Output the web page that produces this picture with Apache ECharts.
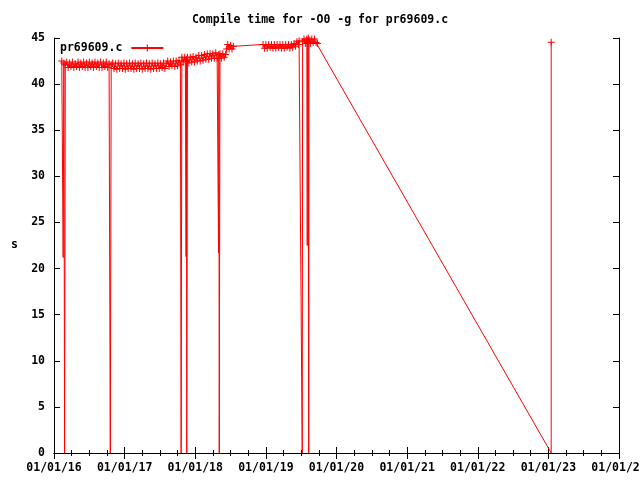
<!DOCTYPE html>
<html>
<head>
<meta charset="utf-8">
<script src="https://cdn.jsdelivr.net/npm/echarts@6/dist/echarts.min.js"></script>
<style>
html,body{margin:0;padding:0;background:#fff;}
#chart{width:640px;height:480px;}
</style>
</head>
<body>
<div id="chart"></div>
<script>
// Series name and title
const seriesName = 'pr69609.c';
const titleText = 'Compile time for -O0 -g for pr69609.c';

// Dates as decimal years
const years = [
  2016.11, 2016.13, 2016.14, 2016.15, 2016.16,
  2016.18, 2016.20, 2016.22, 2016.24, 2016.26, 2016.28, 2016.30, 2016.32, 2016.34, 2016.36,
  2016.38, 2016.40, 2016.42, 2016.44, 2016.46, 2016.48, 2016.50, 2016.52, 2016.54, 2016.56,
  2016.58, 2016.60, 2016.62, 2016.64, 2016.66, 2016.68, 2016.70, 2016.72, 2016.74, 2016.76,
  2016.78, 2016.797, 2016.81,
  2016.83, 2016.85, 2016.87, 2016.89, 2016.91, 2016.93, 2016.95, 2016.97, 2016.99, 2017.01,
  2017.03, 2017.05, 2017.07, 2017.09, 2017.11, 2017.13, 2017.15, 2017.17, 2017.19, 2017.21,
  2017.23, 2017.25, 2017.27, 2017.29, 2017.31, 2017.33, 2017.35, 2017.37, 2017.39, 2017.41,
  2017.43, 2017.45, 2017.47, 2017.49, 2017.51, 2017.53, 2017.55, 2017.57, 2017.59, 2017.61,
  2017.63, 2017.65, 2017.67, 2017.69, 2017.71, 2017.73, 2017.75, 2017.77, 2017.79, 2017.80,
  2017.81, 2017.83, 2017.85, 2017.86, 2017.87, 2017.875, 2017.88, 2017.89, 2017.91, 2017.93,
  2017.95, 2017.97, 2017.99, 2018.01, 2018.03, 2018.05, 2018.07, 2018.09, 2018.11, 2018.13,
  2018.15, 2018.17, 2018.19, 2018.21, 2018.23, 2018.25, 2018.27, 2018.29, 2018.31, 2018.33,
  2018.335, 2018.34, 2018.35, 2018.37, 2018.39, 2018.41, 2018.43, 2018.445, 2018.46, 2018.48,
  2018.50, 2018.52, 2018.54, 2018.96, 2018.98, 2019.00, 2019.02, 2019.04, 2019.06, 2019.08,
  2019.10, 2019.12, 2019.14, 2019.16, 2019.18, 2019.20, 2019.22, 2019.24, 2019.26, 2019.28,
  2019.30, 2019.32, 2019.34, 2019.36, 2019.38, 2019.40, 2019.42, 2019.44, 2019.46, 2019.47,
  2019.515, 2019.52, 2019.54, 2019.56, 2019.58, 2019.586, 2019.59, 2019.60, 2019.607, 2019.61,
  2019.63, 2019.65, 2019.67, 2019.69, 2019.71, 2019.73, 2023.04, 2023.04
];

// Compile time in seconds
const seconds = [
  42.5, 21.2, 42.3, 0, 42.1,
  42.4, 41.8, 42.3, 41.9, 42.4, 41.8, 42.2, 41.9, 42.4, 41.8,
  42.3, 41.9, 42.4, 41.8, 42.3, 41.8, 42.4, 41.9, 42.3, 41.8,
  42.4, 41.9, 42.3, 41.8, 42.4, 41.8, 42.3, 41.9, 42.4, 41.8,
  42.2, 0, 42.1,
  42.3, 41.7, 42.2, 41.6, 42.3, 41.7, 42.2, 41.7, 42.3, 41.6,
  42.2, 41.7, 42.3, 41.7, 42.2, 41.6, 42.3, 41.7, 42.2, 41.7,
  42.3, 41.6, 42.2, 41.7, 42.3, 41.7, 42.2, 41.6, 42.3, 41.7,
  42.2, 41.7, 42.3, 41.7, 42.2, 41.8, 42.3, 41.7, 42.2, 42.5,
  41.9, 42.4, 42.0, 42.5, 41.9, 42.5, 42.0, 42.6, 42.1, 0,
  42.9, 42.4, 42.9, 42.5, 21.3, 42.7, 0, 42.9, 42.3, 42.9,
  42.4, 43.0, 42.4, 42.9, 42.5, 43.1, 42.5, 43.1, 42.6, 43.2,
  42.7, 43.3, 42.7, 43.3, 42.8, 43.3, 42.8, 43.4, 42.8, 21.7,
  43.2, 0, 43.3, 42.8, 43.3, 42.9, 43.2, 43.8, 44.3, 43.8,
  44.2, 43.8, 44.1, 44.3, 43.9, 44.3, 43.9, 44.3, 44.0, 44.3,
  43.9, 44.3, 43.9, 44.3, 44.0, 44.3, 43.9, 44.3, 43.9, 44.3,
  44.0, 44.3, 43.9, 44.3, 44.0, 44.4, 44.1, 44.6, 44.3, 44.7,
  0, 44.6, 44.9, 44.4, 44.9, 22.5, 44.5, 45.0, 0, 44.8,
  44.4, 44.9, 44.5, 44.9, 44.5, 44.4, 0, 44.55
];

// Axis ticks
const xMin = 2016, xMax = 2024, xStep = 1;
const yMin = 0, yMax = 45, yStep = 5;

const plusPath = 'path://M3,0h1v3h3v1h-3v3h-1v-3h-3v-1h3z';
// drop-out points (far below the band) are drawn without a marker, as in the original
const data = years.map((y, i) => seconds[i] < 40
  ? { value: [y, seconds[i]], symbol: 'none' }
  : [y, seconds[i]]);
const font = 'DejaVu Sans Mono';
const red = '#ff0000';

function yearLabel(v) {
  const yy = String(Math.round(v) % 100).padStart(2, '0');
  return '01/01/' + yy;
}

const xCommon = {
  type: 'value', min: xMin, max: xMax, interval: xStep,
  axisLine: { show: true, lineStyle: { color: '#000', width: 1 } },
  axisTick: { show: true, inside: true, length: 6, lineStyle: { color: '#000' } },
  minorTick: { show: true, splitNumber: 4, length: 3, lineStyle: { color: '#000' } },
  splitLine: { show: false }, minorSplitLine: { show: false }
};
const yCommon = {
  type: 'value', min: yMin, max: yMax, interval: yStep,
  axisLine: { show: true, lineStyle: { color: '#000', width: 1 } },
  axisTick: { show: true, inside: true, length: 6, lineStyle: { color: '#000' } },
  splitLine: { show: false }
};

const chart = echarts.init(document.getElementById('chart'), null, { renderer: 'canvas' });
chart.setOption({
  animation: false,
  backgroundColor: '#fff',
  title: {
    text: titleText, left: 'center', top: 9,
    textStyle: { fontFamily: font, fontWeight: 'bold', fontSize: 11.5, color: '#000' }
  },
  legend: {
    left: 60, top: 42, padding: 0, align: 'right', itemWidth: 32, itemHeight: 9, itemGap: 8,
    textStyle: { fontFamily: font, fontWeight: 'bold', fontSize: 11.5, color: '#000', padding: [0, 4, 0, 0] },
    data: [seriesName]
  },
  grid: { left: 54, right: 21, top: 38, bottom: 27, outerBoundsMode: 'none', containLabel: false },
  xAxis: [
    Object.assign({}, xCommon, {
      position: 'bottom',
      axisLabel: {
        show: true, margin: 9, showMinLabel: true, showMaxLabel: true, hideOverlap: false,
        formatter: yearLabel,
        fontFamily: font, fontWeight: 'bold', fontSize: 11.5, color: '#000'
      }
    }),
    Object.assign({}, xCommon, { position: 'top', axisLabel: { show: false } })
  ],
  yAxis: [
    Object.assign({}, yCommon, {
      position: 'left',
      name: 's', nameLocation: 'middle', nameRotate: 0, nameGap: 36,
      nameTextStyle: { fontFamily: font, fontWeight: 'bold', fontSize: 11.5, color: '#000' },
      axisLabel: { show: true, margin: 9, fontFamily: font, fontWeight: 'bold', fontSize: 11.5, color: '#000' }
    }),
    Object.assign({}, yCommon, { position: 'right', axisLabel: { show: false } })
  ],
  series: [{
    name: seriesName,
    type: 'line',
    xAxisIndex: 0, yAxisIndex: 0,
    data: data,
    showSymbol: true, showAllSymbol: true,
    symbol: plusPath,
    symbolSize: 7,
    itemStyle: { color: red },
    lineStyle: { color: red, width: 1 },
    clip: false
  }]
});
</script>
</body>
</html>
